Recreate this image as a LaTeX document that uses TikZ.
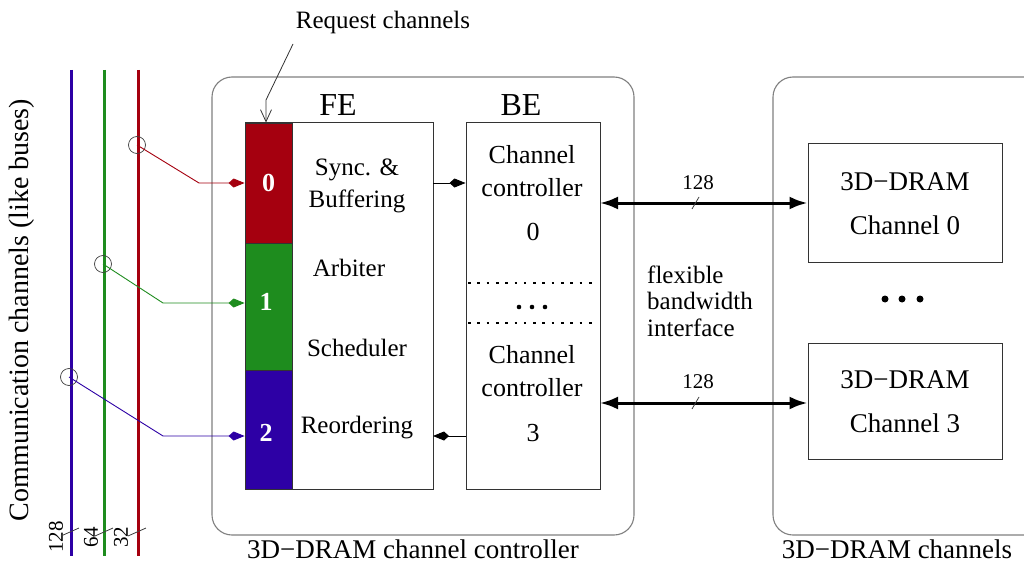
\documentclass[tikz,border=0pt]{standalone}
\usepackage{fontspec}
\setmainfont{Liberation Serif}
\usetikzlibrary{arrows.meta}
\definecolor{busred}{RGB}{165,0,15}
\definecolor{busgreen}{RGB}{30,140,30}
\definecolor{busblue}{RGB}{45,0,165}
\definecolor{frame}{RGB}{128,128,128}
\tikzset{
  txt/.style={inner sep=0pt, align=center, font=\fontsize{25}{32}\selectfont},
  big/.style={inner sep=0pt, font=\fontsize{32}{36}\selectfont},
  small/.style={inner sep=0pt, font=\fontsize{21}{24}\selectfont},
  groupbox/.style={draw=frame, line width=1.1pt, rounded corners=20pt, inner sep=0pt},
  blockbox/.style={draw=black!80, line width=1pt, inner sep=0pt, fill=white},
  cell/.style={draw=black!80, line width=0.8pt, inner sep=0pt, minimum width=47pt,
               text=white, font=\fontsize{26}{30}\selectfont\bfseries},
  bus/.style={line width=3pt},
  tap/.style={circle, draw=black!75, line width=0.7pt, minimum size=17pt, inner sep=0pt},
  feed/.style={line width=0.9pt, -{Kite[length=16pt,width=9pt,inset=5pt]}},
  wide/.style={line width=3pt, {Latex[length=18pt,width=13pt]}-{Latex[length=18pt,width=13pt]}},
  tick/.style={draw=black!75, line width=0.8pt},
  dot/.style={circle, fill=black, inner sep=0pt},
  dotrule/.style={line width=2.6pt, dash pattern=on 2.6pt off 6.7pt},
}
\begin{document}
\begin{tikzpicture}[x=1pt,y=-1pt]
\useasboundingbox[fill=white] (0,0) rectangle (1024,564);

% ---- communication buses on the left ----
\node[txt, rotate=90, font=\fontsize{28}{32}\selectfont] (busname) at (22,310) {Communication channels (like buses)};
\coordinate (bbt) at (71,70);  \coordinate (bbb) at (71,556);
\coordinate (bgt) at (104,70); \coordinate (bgb) at (104,556);
\coordinate (brt) at (138,70); \coordinate (brb) at (138,556);
\draw[bus, busblue]  (bbt) -- (bbb);
\draw[bus, busgreen] (bgt) -- (bgb);
\draw[bus, busred]   (brt) -- (brb);

% bus widths
\node[small, rotate=90] (w128) at (56,537) {128};
\node[small, rotate=90] (w64)  at (91,537) {64};
\node[small, rotate=90] (w32)  at (121,537) {32};
\draw[tick] (61,536) -- (79,528);
\draw[tick] (95,536) -- (113,528);
\draw[tick] (128,536) -- (146,528);

% taps on the buses
\node[tap] (c0) at (137,145) {};
\node[tap] (c1) at (103,264) {};
\node[tap] (c2) at (69,377) {};

% ---- channel controller group ----
\node[groupbox, minimum width=422pt, minimum height=458pt] (ctrl) at (423,306) {};
\node[txt, font=\fontsize{27}{32}\selectfont, anchor=base] (ctrllbl) at (413,558) {3D−DRAM channel controller};

% front end
\node[blockbox, minimum width=188pt, minimum height=366pt] (fe) at (339,306) {};
\node[big] (felbl) at (338,105) {FE};
\node[cell, fill=busred,   minimum height=120pt] (q0) at (268.5,183) {0};
\node[cell, fill=busgreen, minimum height=127pt] (q1) at (268.5,306.5) {};
\node[cell, fill=busblue,  minimum height=119pt] (q2) at (268.5,429.5) {};
\node[cell, draw=none, fill=none] (q1n) at (266,302) {1};
\node[cell, draw=none, fill=none] (q2n) at (266,433) {2};

\node[txt] (sync)  at (357,186) {Sync. \&\\Buffering};
\node[txt] (arb)   at (349,268) {Arbiter};
\node[txt] (sched) at (357,348) {Scheduler};
\node[txt] (reord) at (357,428) {Reordering};

% back end
\node[blockbox, minimum width=134pt, minimum height=366pt] (be) at (533,306) {};
\node[big] (belbl) at (521,105) {BE};
\node[txt, font=\fontsize{26}{33}\selectfont] (cc0) at (532,171) {Channel\\controller};
\node[txt, font=\fontsize{26}{30}\selectfont] (n0) at (533,232) {0};
\node[txt, font=\fontsize{26}{33}\selectfont] (cc3) at (532,371) {Channel\\controller};
\node[txt, font=\fontsize{26}{30}\selectfont] (n3) at (533,433) {3};
\coordinate (da) at (468,283); \coordinate (db) at (598,283);
\coordinate (dc) at (468,323); \coordinate (dd) at (598,323);
\draw[dotrule] (da) -- (db);
\draw[dotrule] (dc) -- (dd);
\node[dot, minimum size=4.6pt] (bd1) at (519,307) {};
\node[dot, minimum size=4.6pt] (bd2) at (532,307) {};
\node[dot, minimum size=4.6pt] (bd3) at (545,307) {};

% request channel pointer
\node[txt] (req) at (383,22) {Request channels};
\coordinate (rstart) at (293,44);
\coordinate (rbend) at (266,100);
\draw[line width=0.8pt, draw=black!80, -{Straight Barb[length=12pt,width=11pt]}]
  (rstart) -- (rbend) -- (rbend |- q0.north);

% bus taps into the request channels
\coordinate (k0) at (199,183);
\coordinate (k1) at (163,303);
\coordinate (k2) at (163,436);
\draw[feed, busred]   (c0.center) -- (k0) -- (k0 -| q0.west);
\draw[feed, busgreen] (c1.center) -- (k1) -- (k1 -| q1.west);
\draw[feed, busblue]  (c2.center) -- (k2) -- (k2 -| q2.west);

% FE <-> BE
\coordinate (fb0) at (433,183);
\coordinate (fb3) at (433,436);
\draw[feed] (fb0) -- (fb0 -| be.west);
\draw[feed] (fb3 -| be.west) -- (fb3);

% ---- DRAM channels group ----
\begin{scope}
\clip (0,0) rectangle (1024,564);
\node[groupbox, minimum width=272pt, minimum height=458pt] (drams) at (909,306) {};
\end{scope}
\node[txt, font=\fontsize{27}{32}\selectfont, anchor=base] (dramslbl) at (897,558) {3D−DRAM channels};

\node[blockbox, minimum width=194pt, minimum height=118pt] (d0) at (905,203) {};
\node[txt, font=\fontsize{27}{44}\selectfont] (d0t) at (905,204) {3D−DRAM\\Channel 0};
\node[blockbox, minimum width=194pt, minimum height=116pt] (d3) at (905,401) {};
\node[txt, font=\fontsize{27}{44}\selectfont] (d3t) at (905,402) {3D−DRAM\\Channel 3};
\node[dot, minimum size=7pt] (rd1) at (885,299) {};
\node[dot, minimum size=7pt] (rd2) at (902,299) {};
\node[dot, minimum size=7pt] (rd3) at (920,299) {};

% wide interfaces
\coordinate (l0) at (600,203);
\coordinate (l3) at (600,403);
\draw[wide] (l0) -- (l0 -| d0.west);
\draw[wide] (l3) -- (l3 -| d3.west);
\node[small] (b0) at (698,183) {128};
\node[small] (b3) at (698,382) {128};
\draw[tick] (692,209) -- (699,197);
\draw[tick] (692,409) -- (699,397);
\node[txt, align=left, anchor=west, font=\fontsize{25}{26.5}\selectfont] (flex) at (647,301) {flexible\\bandwidth\\interface};
\end{tikzpicture}
\end{document}
